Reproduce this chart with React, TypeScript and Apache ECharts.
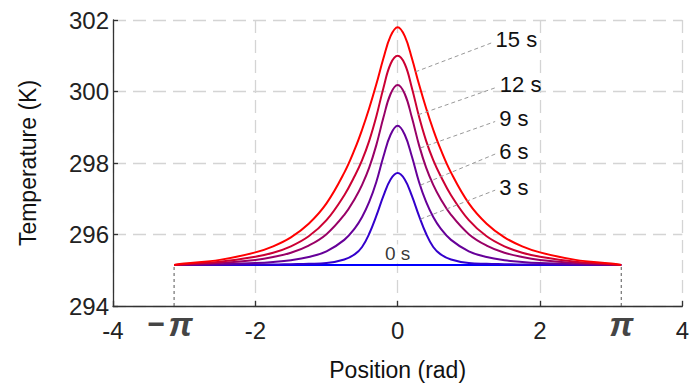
import React, { useEffect, useRef } from "react";
import * as echarts from "echarts";

const PI = Math.PI;

// Positions (rad) where the curves were read
const positions = [
  -PI, -3, -2.5, -2, -1.75, -1.5, -1.25, -1, -0.75, -0.6, -0.5, -0.4, -0.3, -0.2, -0.1,
  0, 0.1, 0.2, 0.3, 0.4, 0.5, 0.6, 0.75, 1, 1.25, 1.5, 1.75, 2, 2.5, 3, PI,
];

// Temperatures (K)
const t0 = [295.15, 295.15];
const t0Pos = [-PI, PI];
const t3 = [
  295.15, 295.15, 295.15, 295.16, 295.16, 295.17, 295.18, 295.2, 295.3, 295.45, 295.65, 296.02, 296.52, 297.08, 297.54,
  297.72, 297.54, 297.08, 296.52, 296.02, 295.65, 295.45, 295.3, 295.2, 295.18, 295.17, 295.16, 295.16, 295.15, 295.15, 295.15,
];
const t6 = [
  295.15, 295.15, 295.17, 295.2, 295.23, 295.28, 295.37, 295.53, 295.85, 296.18, 296.49, 296.91, 297.47, 298.18, 298.79,
  299.04, 298.79, 298.18, 297.47, 296.91, 296.49, 296.18, 295.85, 295.53, 295.37, 295.28, 295.23, 295.2, 295.17, 295.15, 295.15,
];
const t9 = [
  295.15, 295.16, 295.2, 295.29, 295.37, 295.49, 295.69, 296.01, 296.55, 297.01, 297.39, 297.87, 298.5, 299.27, 299.93,
  300.18, 299.93, 299.27, 298.5, 297.87, 297.39, 297.01, 296.55, 296.01, 295.69, 295.49, 295.37, 295.29, 295.2, 295.16, 295.15,
];
const t12 = [
  295.15, 295.17, 295.24, 295.38, 295.49, 295.67, 295.95, 296.4, 297.1, 297.65, 298.08, 298.62, 299.3, 300.1, 300.77,
  301.0, 300.77, 300.1, 299.3, 298.62, 298.08, 297.65, 297.1, 296.4, 295.95, 295.67, 295.49, 295.38, 295.24, 295.17, 295.15,
];
const t15 = [
  295.15, 295.19, 295.29, 295.5, 295.67, 295.92, 296.3, 296.87, 297.73, 298.4, 298.93, 299.53, 300.2, 300.93, 301.55,
  301.8, 301.55, 300.93, 300.2, 299.53, 298.93, 298.4, 297.73, 296.87, 296.3, 295.92, 295.67, 295.5, 295.29, 295.19, 295.15,
];

const seriesNames = ["0 s", "3 s", "6 s", "9 s", "12 s", "15 s"];
const seriesColors = ["#0000ff", "#3300cc", "#660099", "#990066", "#cc0033", "#ff0000"];

// Leader lines for the time labels: [x, T] start on curve, end near label
const leaderNames = ["15 s", "12 s", "9 s", "6 s", "3 s"];
const leaderFrom = [
  [0.25, 300.55],
  [0.29, 299.35],
  [0.32, 298.42],
  [0.32, 297.38],
  [0.32, 296.43],
];
const leaderTo = [
  [1.32, 301.36],
  [1.38, 300.11],
  [1.37, 299.16],
  [1.37, 298.25],
  [1.37, 297.24],
];

const xTicks = { min: -4, max: 4, interval: 2 };
const yTicks = { min: 294, max: 302, interval: 2 };

const FONT = "'Liberation Sans', Arial, sans-serif";

export default function App() {
  const ref = useRef<HTMLDivElement>(null);

  useEffect(() => {
    if (!ref.current) return;
    const chart = echarts.init(ref.current, undefined, { renderer: "svg" });

    const curveData = [
      t0Pos.map((x, i) => [x, t0[i]]),
      positions.map((x, i) => [x, t3[i]]),
      positions.map((x, i) => [x, t6[i]]),
      positions.map((x, i) => [x, t9[i]]),
      positions.map((x, i) => [x, t12[i]]),
      positions.map((x, i) => [x, t15[i]]),
    ];

    const curves = curveData.map((d, i) => ({
      type: "line",
      name: seriesNames[i],
      data: d,
      smooth: 0.4,
      showSymbol: false,
      symbol: "none",
      lineStyle: { color: seriesColors[i], width: 2 },
      z: 3 + i,
    }));

    const leaders = leaderNames.map((n, i) => ({
      type: "line",
      name: "leader " + n,
      data: [leaderFrom[i], leaderTo[i]],
      showSymbol: false,
      symbol: "none",
      lineStyle: { color: "#999", width: 1, type: [4, 3] },
      z: 10,
      endLabel: {
        show: true,
        formatter: n,
        fontSize: 22,
        fontFamily: FONT,
        color: "#111",
        distance: 4,
        offset: [0, -3],
      },
    }));

    const piLines = [-PI, PI].map((x) => ({
      type: "line",
      data: [
        [x, yTicks.min],
        [x, t0[0]],
      ],
      showSymbol: false,
      symbol: "none",
      lineStyle: { color: "#555", width: 1, type: [3, 3] },
      z: 2,
    }));

    const piStyle = {
      fontSize: 34,
      fontWeight: "bold",
      fontStyle: "italic",
      fontFamily: FONT,
      color: "#111",
    };

    const labels = {
      type: "scatter",
      data: [
        {
          value: [0, t0[0]],
          label: {
            show: true,
            position: "top",
            distance: 1,
            formatter: "0 s",
            fontSize: 19,
            fontFamily: FONT,
            color: "#000",
            backgroundColor: "#fff",
            padding: [0, 1, 0, 1],
          },
        },
        {
          value: [-PI, yTicks.min],
          label: {
            show: true,
            position: "bottom",
            distance: 0,
            offset: [-4, 0],
            formatter: "{m|−} {p|π}",
            rich: {
              m: { fontSize: 30, fontWeight: "bold", fontFamily: FONT, color: "#111" },
              p: piStyle,
            },
          },
        },
        {
          value: [PI, yTicks.min],
          label: {
            show: true,
            position: "bottom",
            distance: 0,
            formatter: "{p|π}",
            rich: { p: piStyle },
          },
        },
      ],
      symbolSize: 1,
      itemStyle: { color: "rgba(0,0,0,0)" },
      emphasis: { disabled: true },
      silent: true,
      z: 20,
    };

    const gridLine = { show: true, lineStyle: { color: "#d4d4d4", width: 1.3, type: [13, 7] } };

    chart.setOption({
      animation: false,
      grid: { left: 113, right: 8, top: 20, bottom: 82, containLabel: false },
      xAxis: {
        type: "value",
        min: xTicks.min,
        max: xTicks.max,
        interval: xTicks.interval,
        name: "Position (rad)",
        nameLocation: "middle",
        nameGap: 52,
        nameTextStyle: { fontSize: 23, fontFamily: FONT, color: "#111" },
        axisLine: { onZero: false, lineStyle: { color: "#333", width: 1.3 } },
        axisTick: { inside: true, length: 5, lineStyle: { color: "#333", width: 1.3 } },
        axisLabel: { fontSize: 24, fontFamily: FONT, color: "#222", margin: 12 },
        splitLine: gridLine,
      },
      yAxis: {
        type: "value",
        min: yTicks.min,
        max: yTicks.max,
        interval: yTicks.interval,
        name: "Temperature (K)",
        nameLocation: "middle",
        nameGap: 74,
        nameTextStyle: { fontSize: 23, fontFamily: FONT, color: "#111" },
        axisLine: { show: true, onZero: false, lineStyle: { color: "#333", width: 1.3 } },
        axisTick: { show: true, inside: true, length: 5, lineStyle: { color: "#333", width: 1.3 } },
        axisLabel: { fontSize: 24, fontFamily: FONT, color: "#222", margin: 4 },
        splitLine: gridLine,
      },
      series: [...piLines, ...curves, ...leaders, labels],
    });

    return () => chart.dispose();
  }, []);

  return (
    <div
      ref={ref}
      style={{ position: "fixed", left: 0, top: 0, width: 692, height: 388, background: "#fff" }}
    />
  );
}
